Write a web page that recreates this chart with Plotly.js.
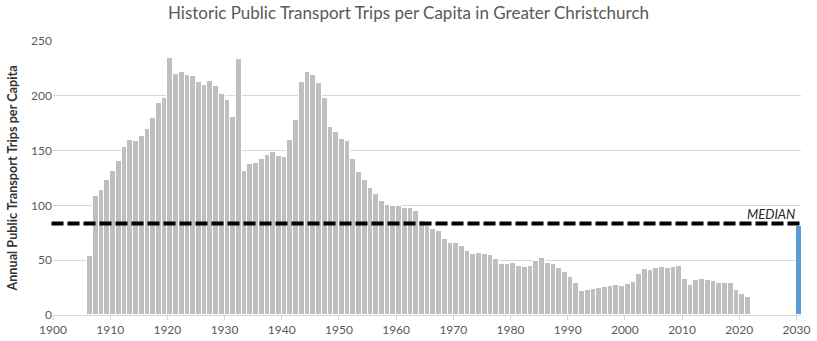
<!DOCTYPE html>
<html>
<head>
<meta charset="utf-8">
<script src="https://cdn.plot.ly/plotly-3.0.1.min.js"></script>
<style>html,body{margin:0;padding:0;background:#fff;}#chart{width:817px;height:341px;}</style>
</head>
<body>
<div id="chart"></div>
<script>
// Historic years (one bar per year)
var years = [
  1906,1907,1908,1909,
  1910,1911,1912,1913,1914,1915,1916,1917,1918,1919,
  1920,1921,1922,1923,1924,1925,1926,1927,1928,1929,
  1930,1931,1932,1933,1934,1935,1936,1937,1938,1939,
  1940,1941,1942,1943,1944,1945,1946,1947,1948,1949,
  1950,1951,1952,1953,1954,1955,1956,1957,1958,1959,
  1960,1961,1962,1963,1964,1965,1966,1967,1968,1969,
  1970,1971,1972,1973,1974,1975,1976,1977,1978,1979,
  1980,1981,1982,1983,1984,1985,1986,1987,1988,1989,
  1990,1991,1992,1993,1994,1995,1996,1997,1998,1999,
  2000,2001,2002,2003,2004,2005,2006,2007,2008,2009,
  2010,2011,2012,2013,2014,2015,2016,2017,2018,2019,
  2020,2021
];
// Annual public transport trips per capita
var trips = [
  53.8,108.9,114,123.2,
  131.4,140.8,153.3,160,159,163.3,169.7,179.7,193.7,198,
  234.5,220,221.7,219.3,218.4,212.6,210,213.5,209,202,
  196,180.7,233.6,131.4,138,139,142.6,146,148.7,145,
  144.2,160,177.9,212.6,221.7,219.3,211.7,198,171.5,167,
  160.6,158.8,142.3,130.5,123.2,116.2,110.4,104.3,100.7,99.8,
  99.8,97.6,97.6,94.9,86,81.5,78.5,76.6,69.3,66,
  66,63,58.5,55.7,56.6,55.7,54.7,51.1,46.5,46.5,
  47.4,44.7,43.8,44.7,49.3,52,47.4,46.5,42.9,39.2,
  34.7,29.2,21.9,22.8,23.7,24.6,25.5,26.5,27.4,26.5,
  28.3,30.1,37.4,42,41,42.9,43.8,42.9,43.8,44.7,
  32.8,27.4,31.9,32.8,31.9,31,29.2,29.2,29.2,22.8,
  19.2,16.4
];
// Target year bar
var targetYears = [2030];
var targetTrips = [81];
// Median of historic series
var medianValue = [83.5];
var medianLabel = ["MEDIAN"];
var xTicks = [1900,1910,1920,1930,1940,1950,1960,1970,1980,1990,2000,2010,2020,2030];
var yTicks = [0,50,100,150,200,250];

var FONT = "Lato, 'Noto Sans', sans-serif";

var traces = [
  {
    type: 'bar', x: years, y: trips, offset: 0, width: 1,
    marker: {color: '#bfbfbf', line: {color: '#ffffff', width: 1}},
    hoverinfo: 'x+y', showlegend: false
  },
  {
    type: 'bar', x: targetYears, y: targetTrips, offset: 0, width: 1,
    marker: {color: '#5b9bd5', line: {color: '#ffffff', width: 1}},
    hoverinfo: 'x+y', showlegend: false
  }
];

var layout = {
  width: 817, height: 341,
  margin: {l: 53, r: 16, t: 41, b: 26},
  paper_bgcolor: '#ffffff', plot_bgcolor: '#ffffff',
  font: {family: FONT, color: '#595959', size: 12},
  title: {text: 'Historic Public Transport Trips per Capita in Greater Christchurch',
          font: {family: FONT, size: 17, color: '#595959'}, x: 0.5, xanchor: 'center', y: 0.963, yanchor: 'middle'},
  bargap: 0,
  xaxis: {
    range: [1900, 2030.8], tickvals: xTicks, ticktext: xTicks.map(String),
    ticks: 'outside', ticklen: 4, tickcolor: '#d9d9d9',
    showline: true, linecolor: '#d9d9d9', linewidth: 1,
    showgrid: false, zeroline: false,
    tickfont: {family: FONT, size: 12, color: '#595959'}
  },
  yaxis: {
    range: [0, 250], tickvals: yTicks, ticktext: yTicks.map(String),
    showgrid: true, gridcolor: '#d9d9d9', gridwidth: 1,
    zeroline: false, showline: false, ticks: '',
    tickfont: {family: FONT, size: 12, color: '#595959'},
    title: {text: '<b>Annual Public Transport Trips per Capita</b>', standoff: 10,
            font: {family: FONT, size: 12.7, color: '#333333'}}
  },
  shapes: [{
    type: 'line', xref: 'paper', yref: 'y', x0: -0.002, x1: 0.998,
    y0: medianValue[0], y1: medianValue[0],
    line: {color: '#000000', width: 4, dash: '12px,4px'}
  }],
  annotations: [{
    xref: 'paper', yref: 'y', x: 0.995, y: medianValue[0],
    xanchor: 'right', yanchor: 'bottom', yshift: -1,
    text: '<i>' + medianLabel[0] + '</i>', showarrow: false,
    font: {family: FONT, size: 13, color: '#262626'}
  }]
};

Plotly.newPlot('chart', traces, layout, {displayModeBar: false, responsive: false});
</script>
</body>
</html>
